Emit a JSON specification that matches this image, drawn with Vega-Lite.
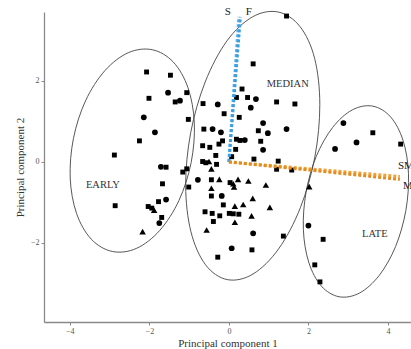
{
  "$schema": "https://vega.github.io/schema/vega-lite/v6.json",
  "width": 367,
  "height": 310,
  "autosize": "none",
  "padding": {"left": 44, "top": 12, "right": 0, "bottom": 27},
  "background": "white",
  "config": {
    "view": {"stroke": null},
    "axis": {
      "grid": false,
      "domainColor": "#8a8a8a",
      "domainWidth": 1.3,
      "tickColor": "#8a8a8a",
      "tickSize": 3,
      "labelColor": "#555",
      "labelFont": "Liberation Serif",
      "labelFontSize": 8,
      "labelPadding": 2,
      "titleFont": "Liberation Serif",
      "titleFontSize": 11,
      "titleFontWeight": "normal",
      "titleColor": "#333"
    }
  },
  "datasets": {
    "points": [
      {"x": -2.07, "y": 2.22, "group": "G1"},
      {"x": -1.47, "y": 2.14, "group": "G1"},
      {"x": -1.53, "y": 1.71, "group": "G2"},
      {"x": -1.06, "y": 1.71, "group": "G1"},
      {"x": -2.01, "y": 1.57, "group": "G1"},
      {"x": -1.35, "y": 1.48, "group": "G1"},
      {"x": -1.23, "y": 1.51, "group": "G2"},
      {"x": -1.02, "y": 1.05, "group": "G1"},
      {"x": -2.14, "y": 1.10, "group": "G2"},
      {"x": -1.86, "y": 0.73, "group": "G2"},
      {"x": -2.25, "y": 0.52, "group": "G1"},
      {"x": -2.88, "y": 0.17, "group": "G1"},
      {"x": -1.71, "y": -0.12, "group": "G2"},
      {"x": -1.58, "y": -0.13, "group": "G1"},
      {"x": -1.06, "y": -0.17, "group": "G1"},
      {"x": -1.16, "y": -0.25, "group": "G1"},
      {"x": -0.78, "y": -0.44, "group": "G2"},
      {"x": -1.67, "y": -0.54, "group": "G1"},
      {"x": -1.01, "y": -0.62, "group": "G1"},
      {"x": -2.86, "y": -1.08, "group": "G1"},
      {"x": -1.58, "y": -0.93, "group": "G2"},
      {"x": -1.77, "y": -0.98, "group": "G1"},
      {"x": -2.03, "y": -1.10, "group": "G1"},
      {"x": -1.94, "y": -1.14, "group": "G1"},
      {"x": -1.88, "y": -1.19, "group": "G3"},
      {"x": -1.69, "y": -1.37, "group": "G1"},
      {"x": -1.75, "y": -1.51, "group": "G2"},
      {"x": -2.17, "y": -1.72, "group": "G3"},
      {"x": 1.45, "y": 3.60, "group": "G1"},
      {"x": 0.61, "y": 2.42, "group": "G1"},
      {"x": 0.33, "y": 1.80, "group": "G1"},
      {"x": 0.19, "y": 1.59, "group": "G1"},
      {"x": 0.47, "y": 1.59, "group": "G1"},
      {"x": 0.68, "y": 1.55, "group": "G2"},
      {"x": -0.28, "y": 1.42, "group": "G2"},
      {"x": -0.65, "y": 1.44, "group": "G1"},
      {"x": 0.55, "y": 1.34, "group": "G2"},
      {"x": 1.20, "y": 1.48, "group": "G1"},
      {"x": 1.66, "y": 1.43, "group": "G1"},
      {"x": -0.12, "y": 1.19, "group": "G1"},
      {"x": 0.26, "y": 1.10, "group": "G1"},
      {"x": 0.86, "y": 0.96, "group": "G2"},
      {"x": 1.45, "y": 0.81, "group": "G2"},
      {"x": -0.41, "y": 0.81, "group": "G2"},
      {"x": -0.63, "y": 0.81, "group": "G1"},
      {"x": -0.20, "y": 0.73, "group": "G2"},
      {"x": 0.74, "y": 0.77, "group": "G1"},
      {"x": 0.98, "y": 0.71, "group": "G2"},
      {"x": 0.19, "y": 0.56, "group": "G1"},
      {"x": 0.28, "y": 0.53, "group": "G1"},
      {"x": 0.40, "y": 0.54, "group": "G2"},
      {"x": -0.16, "y": 0.52, "group": "G1"},
      {"x": -0.25, "y": 0.44, "group": "G1"},
      {"x": 0.80, "y": 0.51, "group": "G1"},
      {"x": -0.66, "y": 0.40, "group": "G1"},
      {"x": -0.48, "y": 0.36, "group": "G1"},
      {"x": 0.86, "y": 0.30, "group": "G2"},
      {"x": 0.17, "y": 0.31, "group": "G1"},
      {"x": -0.33, "y": 0.16, "group": "G1"},
      {"x": 0.07, "y": 0.13, "group": "G1"},
      {"x": 0.63, "y": 0.07, "group": "G1"},
      {"x": -0.66, "y": 0.01, "group": "G1"},
      {"x": -0.58, "y": -0.02, "group": "G1"},
      {"x": -0.50, "y": 0.01, "group": "G3"},
      {"x": -0.31, "y": -0.06, "group": "G1"},
      {"x": 1.24, "y": 0.02, "group": "G1"},
      {"x": -0.44, "y": -0.17, "group": "G3"},
      {"x": 1.20, "y": -0.18, "group": "G1"},
      {"x": 1.58, "y": -0.20, "group": "G1"},
      {"x": -0.44, "y": -0.44, "group": "G1"},
      {"x": -0.24, "y": -0.43, "group": "G3"},
      {"x": 0.03, "y": -0.51, "group": "G1"},
      {"x": 0.11, "y": -0.54, "group": "G3"},
      {"x": 0.23, "y": -0.43, "group": "G3"},
      {"x": 0.49, "y": -0.47, "group": "G3"},
      {"x": 0.93, "y": -0.57, "group": "G3"},
      {"x": -0.44, "y": -0.65, "group": "G3"},
      {"x": 0.13, "y": -0.62, "group": "G3"},
      {"x": -0.44, "y": -0.84, "group": "G1"},
      {"x": -0.18, "y": -0.84, "group": "G2"},
      {"x": 0.60, "y": -0.90, "group": "G3"},
      {"x": -0.14, "y": -1.06, "group": "G1"},
      {"x": 0.15, "y": -1.09, "group": "G3"},
      {"x": 0.36, "y": -1.05, "group": "G3"},
      {"x": 1.03, "y": -1.12, "group": "G3"},
      {"x": -0.60, "y": -1.23, "group": "G1"},
      {"x": -0.42, "y": -1.27, "group": "G1"},
      {"x": 0.01, "y": -1.27, "group": "G1"},
      {"x": 0.11, "y": -1.28, "group": "G1"},
      {"x": 0.25, "y": -1.29, "group": "G1"},
      {"x": 0.57, "y": -1.33, "group": "G3"},
      {"x": -0.23, "y": -1.33, "group": "G1"},
      {"x": -0.39, "y": -1.47, "group": "G1"},
      {"x": 0.15, "y": -1.49, "group": "G3"},
      {"x": -0.56, "y": -1.68, "group": "G3"},
      {"x": 0.61, "y": -1.76, "group": "G2"},
      {"x": 0.07, "y": -2.13, "group": "G2"},
      {"x": 0.58, "y": -2.17, "group": "G1"},
      {"x": -0.28, "y": -2.35, "group": "G1"},
      {"x": 1.37, "y": -1.83, "group": "G1"},
      {"x": 2.02, "y": -0.61, "group": "G3"},
      {"x": 2.88, "y": 0.96, "group": "G2"},
      {"x": 3.62, "y": 0.72, "group": "G1"},
      {"x": 3.21, "y": 0.48, "group": "G2"},
      {"x": 2.67, "y": 0.32, "group": "G2"},
      {"x": 4.32, "y": 0.44, "group": "G1"},
      {"x": 2.00, "y": -1.57, "group": "G2"},
      {"x": 2.37, "y": -1.91, "group": "G1"},
      {"x": 2.16, "y": -2.54, "group": "G1"},
      {"x": 2.29, "y": -2.96, "group": "G1"}
    ],
    "ellipses": [
      {"e": "EARLY", "i": 0, "x": -1.927, "y": 2.769},
      {"e": "EARLY", "i": 1, "x": -1.398, "y": 2.465},
      {"e": "EARLY", "i": 2, "x": -1.028, "y": 1.829},
      {"e": "EARLY", "i": 3, "x": -0.869, "y": 0.957},
      {"e": "EARLY", "i": 4, "x": -0.950, "y": -0.019},
      {"e": "EARLY", "i": 5, "x": -1.255, "y": -0.949},
      {"e": "EARLY", "i": 6, "x": -1.740, "y": -1.691},
      {"e": "EARLY", "i": 7, "x": -2.328, "y": -2.135},
      {"e": "EARLY", "i": 8, "x": -2.933, "y": -2.209},
      {"e": "EARLY", "i": 9, "x": -3.462, "y": -1.905},
      {"e": "EARLY", "i": 10, "x": -3.832, "y": -1.269},
      {"e": "EARLY", "i": 11, "x": -3.991, "y": -0.397},
      {"e": "EARLY", "i": 12, "x": -3.910, "y": 0.579},
      {"e": "EARLY", "i": 13, "x": -3.605, "y": 1.509},
      {"e": "EARLY", "i": 14, "x": -3.120, "y": 2.251},
      {"e": "EARLY", "i": 15, "x": -2.532, "y": 2.695},
      {"e": "MEDIAN", "i": 0, "x": 1.240, "y": 3.70},
      {"e": "MEDIAN", "i": 1, "x": 1.789, "y": 3.34},
      {"e": "MEDIAN", "i": 2, "x": 2.156, "y": 2.557},
      {"e": "MEDIAN", "i": 3, "x": 2.287, "y": 1.415},
      {"e": "MEDIAN", "i": 4, "x": 2.161, "y": 0.119},
      {"e": "MEDIAN", "i": 5, "x": 1.797, "y": -1.131},
      {"e": "MEDIAN", "i": 6, "x": 1.252, "y": -2.143},
      {"e": "MEDIAN", "i": 7, "x": 0.607, "y": -2.766},
      {"e": "MEDIAN", "i": 8, "x": -0.040, "y": -2.904},
      {"e": "MEDIAN", "i": 9, "x": -0.589, "y": -2.536},
      {"e": "MEDIAN", "i": 10, "x": -0.956, "y": -1.717},
      {"e": "MEDIAN", "i": 11, "x": -1.087, "y": -0.575},
      {"e": "MEDIAN", "i": 12, "x": -0.961, "y": 0.721},
      {"e": "MEDIAN", "i": 13, "x": -0.597, "y": 1.971},
      {"e": "MEDIAN", "i": 14, "x": -0.052, "y": 2.983},
      {"e": "MEDIAN", "i": 15, "x": 0.593, "y": 3.58},
      {"e": "LATE", "i": 0, "x": 3.618, "y": 1.377},
      {"e": "LATE", "i": 1, "x": 4.067, "y": 1.111},
      {"e": "LATE", "i": 2, "x": 4.381, "y": 0.528},
      {"e": "LATE", "i": 3, "x": 4.517, "y": -0.283},
      {"e": "LATE", "i": 4, "x": 4.450, "y": -1.201},
      {"e": "LATE", "i": 5, "x": 4.193, "y": -2.085},
      {"e": "LATE", "i": 6, "x": 3.783, "y": -2.798},
      {"e": "LATE", "i": 7, "x": 3.285, "y": -3.235},
      {"e": "LATE", "i": 8, "x": 2.772, "y": -3.327},
      {"e": "LATE", "i": 9, "x": 2.323, "y": -3.061},
      {"e": "LATE", "i": 10, "x": 2.009, "y": -2.478},
      {"e": "LATE", "i": 11, "x": 1.873, "y": -1.667},
      {"e": "LATE", "i": 12, "x": 1.940, "y": -0.749},
      {"e": "LATE", "i": 13, "x": 2.197, "y": 0.135},
      {"e": "LATE", "i": 14, "x": 2.607, "y": 0.848},
      {"e": "LATE", "i": 15, "x": 3.105, "y": 1.285}
    ],
    "vectors": [
      {"var": "S", "x": 0, "y": 0, "x2": 0.25, "y2": 3.58},
      {"var": "F", "x": 0, "y": 0, "x2": 0.29, "y2": 3.58},
      {"var": "SM", "x": 0, "y": 0, "x2": 4.30, "y2": -0.36},
      {"var": "M", "x": 0, "y": 0, "x2": 4.30, "y2": -0.43}
    ],
    "varLabels": [
      {"label": "S", "x": -0.03, "y": 3.70},
      {"label": "F", "x": 0.50, "y": 3.70}
    ],
    "sideLabels": [
      {"label": "SM", "x": 4.25, "y": -0.10},
      {"label": "M", "x": 4.38, "y": -0.59}
    ],
    "groupLabels": [
      {"label": "EARLY", "x": -3.17, "y": -0.57},
      {"label": "MEDIAN", "x": 1.48, "y": 1.93},
      {"label": "LATE", "x": 3.67, "y": -1.78}
    ]
  },
  "layer": [
    {
      "data": {"name": "ellipses"},
      "mark": {"type": "line", "interpolate": "cardinal-closed", "stroke": "#444", "strokeWidth": 0.9},
      "encoding": {
        "x": {"field": "x", "type": "quantitative", "scale": {"domain": [-4.65, 4.58], "nice": false, "zero": false},
              "axis": {"values": [-4, -2, 0, 2, 4], "title": "Principal component 1", "titlePadding": 2}},
        "y": {"field": "y", "type": "quantitative", "scale": {"domain": [-3.95, 3.70], "nice": false, "zero": false},
              "axis": {"values": [-2, 0, 2], "title": "Principal component 2", "titlePadding": 5}},
        "detail": {"field": "e"},
        "order": {"field": "i", "type": "quantitative"}
      }
    },
    {
      "data": {"name": "points"},
      "mark": {"type": "point", "filled": true, "opacity": 1, "strokeWidth": 0},
      "encoding": {
        "x": {"field": "x", "type": "quantitative"},
        "y": {"field": "y", "type": "quantitative"},
        "shape": {"field": "group", "type": "nominal", "scale": {"domain": ["G1", "G2", "G3"], "range": ["square", "circle", "triangle-up"]}, "legend": null},
        "size": {"field": "group", "type": "nominal", "scale": {"domain": ["G1", "G2", "G3"], "range": [24, 42, 48]}, "legend": null},
        "color": {"value": "#000000"}
      }
    },
    {
      "data": {"name": "vectors"},
      "mark": {"type": "rule", "strokeDash": [3, 2], "strokeWidth": 3},
      "encoding": {
        "x": {"field": "x", "type": "quantitative"},
        "y": {"field": "y", "type": "quantitative"},
        "x2": {"field": "x2"},
        "y2": {"field": "y2"},
        "color": {"field": "var", "type": "nominal", "scale": {"domain": ["S", "F", "SM", "M"], "range": ["#5db4ea", "#3f9ee0", "#f0a33a", "#e58a1f"]}, "legend": null}
      }
    },
    {
      "data": {"name": "varLabels"},
      "mark": {"type": "text", "font": "Liberation Serif", "fontSize": 11, "color": "#222", "baseline": "middle", "align": "center"},
      "encoding": {
        "x": {"field": "x", "type": "quantitative"},
        "y": {"field": "y", "type": "quantitative"},
        "text": {"field": "label"}
      }
    },
    {
      "data": {"name": "sideLabels"},
      "mark": {"type": "text", "font": "Liberation Serif", "fontSize": 11, "color": "#222", "baseline": "middle", "align": "left"},
      "encoding": {
        "x": {"field": "x", "type": "quantitative"},
        "y": {"field": "y", "type": "quantitative"},
        "text": {"field": "label"}
      }
    },
    {
      "data": {"name": "groupLabels"},
      "mark": {"type": "text", "font": "Liberation Serif", "fontSize": 10.5, "color": "#333", "baseline": "middle", "align": "center"},
      "encoding": {
        "x": {"field": "x", "type": "quantitative"},
        "y": {"field": "y", "type": "quantitative"},
        "text": {"field": "label"}
      }
    }
  ]
}
